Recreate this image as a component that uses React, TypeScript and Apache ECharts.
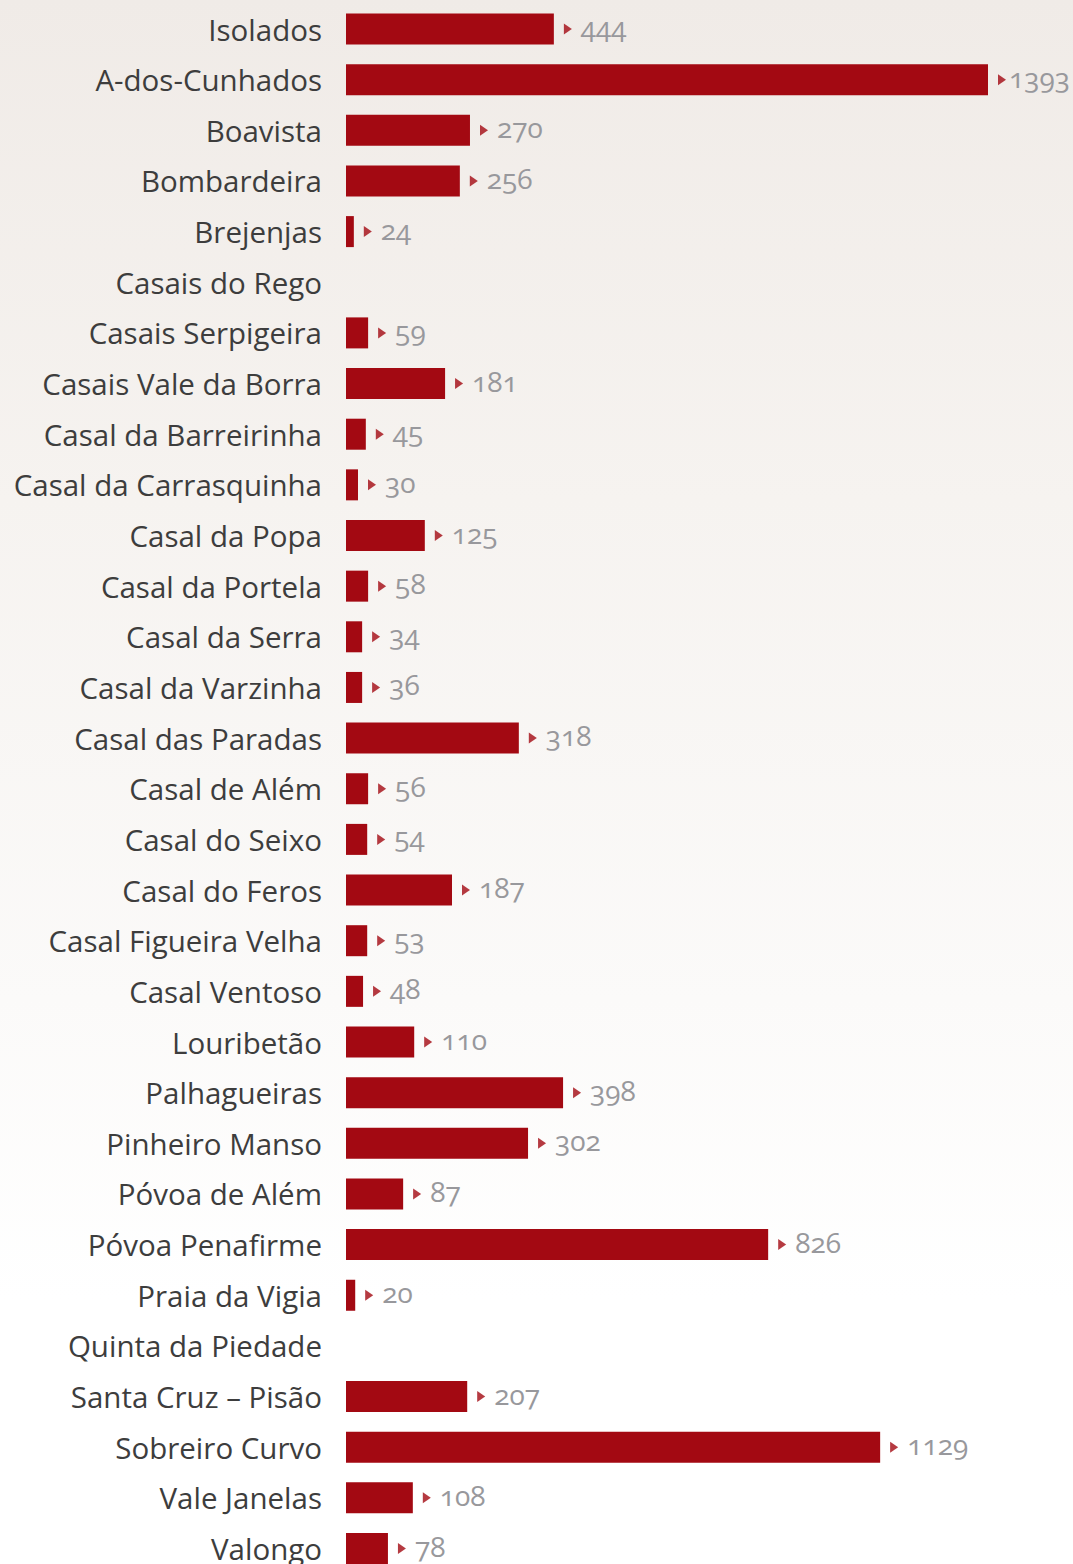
import React, { useEffect, useRef } from "react";
import * as echarts from "echarts";

const categories = [
  "Isolados",
  "A-dos-Cunhados",
  "Boavista",
  "Bombardeira",
  "Brejenjas",
  "Casais do Rego",
  "Casais Serpigeira",
  "Casais Vale da Borra",
  "Casal da Barreirinha",
  "Casal da Carrasquinha",
  "Casal da Popa",
  "Casal da Portela",
  "Casal da Serra",
  "Casal da Varzinha",
  "Casal das Paradas",
  "Casal de Além",
  "Casal do Seixo",
  "Casal do Feros",
  "Casal Figueira Velha",
  "Casal Ventoso",
  "Louribetão",
  "Palhagueiras",
  "Pinheiro Manso",
  "Póvoa de Além",
  "Póvoa Penafirme",
  "Praia da Vigia",
  "Quinta da Piedade",
  "Santa Cruz – Pisão",
  "Sobreiro Curvo",
  "Vale Janelas",
  "Valongo",
];

// printed values (labels)
const values: (number | null)[] = [
  444, 1393, 270, 256, 24, null, 59, 181, 45, 30, 125, 58, 34, 36, 318, 56, 54,
  187, 53, 48, 110, 398, 302, 87, 826, 20, null, 207, 1129, 108, 78,
];

// drawn bar lengths (same scale as 1393)
const barLengths: (number | null)[] = [
  451, 1393, 269, 247, 17, null, 48, 215, 43, 26, 171, 48, 35, 35, 375, 48, 46,
  230, 46, 37, 148, 471, 395, 124, 916, 20, null, 263, 1159, 145, 91,
];

const AXIS_MAX = 1393;

export default function App() {
  const ref = useRef<HTMLDivElement>(null);

  useEffect(() => {
    if (!ref.current) return;
    const chart = echarts.init(ref.current, null, { renderer: "svg" });
    const rowH = 50.65;
    const barData = barLengths.map((v) =>
      v === AXIS_MAX ? { value: v, label: { distance: 21 } } : v
    );
    chart.setOption({
      animation: false,
      grid: {
        left: 346,
        top: 29 - rowH / 2,
        width: 642,
        height: rowH * categories.length,
        containLabel: false,
      },
      xAxis: {
        type: "value",
        min: 0,
        max: AXIS_MAX,
        show: false,
        splitLine: { show: false },
      },
      yAxis: {
        type: "category",
        data: categories,
        inverse: true,
        axisLine: { show: false },
        axisTick: { show: false },
        axisLabel: {
          margin: 24,
          fontFamily: "Open Sans",
          fontSize: 29.5,
          color: "#3d3d3d",
        },
      },
      series: [
        {
          type: "bar",
          data: barData,
          barWidth: 31,
          silent: true,
          itemStyle: { color: "#a30912" },
          label: {
            show: true,
            position: "right",
            distance: 27,
            offset: [0, -3],
            fontFamily: "Open Sans",
            fontSize: 28,
            color: "#98989c",
            formatter: (p: any) => {
              const v = values[p.dataIndex];
              return v == null ? "" : String(v);
            },
          },
        },
        {
          type: "scatter",
          data: barLengths,
          silent: true,
          symbol: "triangle",
          symbolSize: [11, 8],
          symbolRotate: -90,
          symbolOffset: [14, 0],
          itemStyle: { color: "#a30912" },
          z: 5,
        },
      ],
    });
    return () => chart.dispose();
  }, []);

  return (
    <div
      style={{
        position: "absolute",
        left: 0,
        top: 0,
        width: 1073,
        height: 1600,
        background:
          "linear-gradient(180deg, #f0ebe7 0px, #f6f3f0 500px, #fbfaf9 1000px, #ffffff 1300px)",
      }}
    >
      <style>{`svg text { font-feature-settings: "onum" 1; }`}</style>
      <div ref={ref} style={{ width: 1073, height: 1600 }} />
    </div>
  );
}
